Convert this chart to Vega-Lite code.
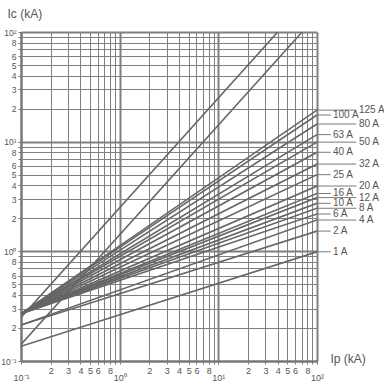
{
  "$schema": "https://vega.github.io/schema/vega-lite/v6.json",
  "width": 296,
  "height": 329,
  "autosize": "none",
  "padding": {"left": 21, "top": 32, "right": 67, "bottom": 24},
  "background": "white",
  "config": {"view": {"stroke": null}, "font": "Liberation Sans"},
  "datasets": {
    "curves": [
      {"curve": "2.5 Ip", "Ip": 0.1, "Ic": 0.25}, {"curve": "2.5 Ip", "Ip": 40, "Ic": 100},
      {"curve": "1.41 Ip", "Ip": 0.1, "Ic": 0.1414}, {"curve": "1.41 Ip", "Ip": 70.7, "Ic": 100},
      {"curve": "125 A", "Ip": 0.1, "Ic": 0.27}, {"curve": "125 A", "Ip": 100, "Ic": 19.4},
      {"curve": "100 A", "Ip": 0.1, "Ic": 0.27}, {"curve": "100 A", "Ip": 100, "Ic": 17.5},
      {"curve": "80 A", "Ip": 0.1, "Ic": 0.27}, {"curve": "80 A", "Ip": 100, "Ic": 14.5},
      {"curve": "63 A", "Ip": 0.1, "Ic": 0.27}, {"curve": "63 A", "Ip": 100, "Ic": 11.6},
      {"curve": "50 A", "Ip": 0.1, "Ic": 0.27}, {"curve": "50 A", "Ip": 100, "Ic": 9.9},
      {"curve": "40 A", "Ip": 0.1, "Ic": 0.27}, {"curve": "40 A", "Ip": 100, "Ic": 8.0},
      {"curve": "32 A", "Ip": 0.1, "Ic": 0.27}, {"curve": "32 A", "Ip": 100, "Ic": 6.25},
      {"curve": "25 A", "Ip": 0.1, "Ic": 0.27}, {"curve": "25 A", "Ip": 100, "Ic": 5.0},
      {"curve": "20 A", "Ip": 0.1, "Ic": 0.27}, {"curve": "20 A", "Ip": 100, "Ic": 3.94},
      {"curve": "16 A", "Ip": 0.1, "Ic": 0.27}, {"curve": "16 A", "Ip": 100, "Ic": 3.37},
      {"curve": "12 A", "Ip": 0.1, "Ic": 0.27}, {"curve": "12 A", "Ip": 100, "Ic": 3.09},
      {"curve": "10 A", "Ip": 0.1, "Ic": 0.27}, {"curve": "10 A", "Ip": 100, "Ic": 2.74},
      {"curve": "8 A", "Ip": 0.1, "Ic": 0.27}, {"curve": "8 A", "Ip": 100, "Ic": 2.47},
      {"curve": "6 A", "Ip": 0.1, "Ic": 0.27}, {"curve": "6 A", "Ip": 100, "Ic": 2.19},
      {"curve": "4 A", "Ip": 0.1, "Ic": 0.213}, {"curve": "4 A", "Ip": 100, "Ic": 1.93},
      {"curve": "2 A", "Ip": 0.1, "Ic": 0.213}, {"curve": "2 A", "Ip": 100, "Ic": 1.53},
      {"curve": "1 A", "Ip": 0.1, "Ic": 0.136}, {"curve": "1 A", "Ip": 100, "Ic": 0.99}
    ],
    "labels": [
      {"label": "125 A", "Ic": 19.4, "col": "R"},
      {"label": "100 A", "Ic": 17.5, "col": "L"},
      {"label": "80 A", "Ic": 14.5, "col": "R"},
      {"label": "63 A", "Ic": 11.6, "col": "L"},
      {"label": "50 A", "Ic": 9.9, "col": "R"},
      {"label": "40 A", "Ic": 8.0, "col": "L"},
      {"label": "32 A", "Ic": 6.25, "col": "R"},
      {"label": "25 A", "Ic": 5.0, "col": "L"},
      {"label": "20 A", "Ic": 3.94, "col": "R"},
      {"label": "16 A", "Ic": 3.37, "col": "L"},
      {"label": "12 A", "Ic": 3.09, "col": "R"},
      {"label": "10 A", "Ic": 2.74, "col": "L"},
      {"label": "8 A", "Ic": 2.47, "col": "R"},
      {"label": "6 A", "Ic": 2.19, "col": "L"},
      {"label": "4 A", "Ic": 1.93, "col": "R"},
      {"label": "2 A", "Ic": 1.53, "col": "L"},
      {"label": "1 A", "Ic": 0.99, "col": "L"}
    ]
  },
  "layer": [
    {
      "data": {"name": "curves"},
      "mark": {"type": "line", "color": "#666666", "strokeWidth": 1.6, "clip": true},
      "encoding": {
        "x": {
          "field": "Ip", "type": "quantitative",
          "scale": {"type": "log", "domain": [0.1, 100], "nice": false},
          "axis": {
            "values": [0.1,0.2,0.3,0.4,0.5,0.6,0.7,0.8,0.9,1,2,3,4,5,6,7,8,9,10,20,30,40,50,60,70,80,90,100],
            "labelExpr": "datum.value==0.1?'10⁻¹':datum.value==1?'10⁰':datum.value==10?'10¹':datum.value==100?'10²':(indexof([7,9],round(datum.value/pow(10,floor(log(datum.value)/LN10+1e-6))))>=0?'':toString(round(datum.value/pow(10,floor(log(datum.value)/LN10+1e-6)))))",
            "labelFontSize": 9, "labelColor": "#555", "labelFlush": false, "labelOverlap": false,
            "labelPadding": {"condition": {"test": "datum.value==0.1||datum.value==1||datum.value==10||datum.value==100", "value": 9}, "value": 2},
            "grid": true, "gridColor": "#808080",
            "gridWidth": {"condition": {"test": "datum.value==0.1||datum.value==1||datum.value==10||datum.value==100", "value": 2}, "value": 1},
            "domainColor": "#777", "domainWidth": 2,
            "tickColor": "#777", "tickSize": 3,
            "title": "Ip (kA)", "titleFontSize": 12, "titleFontWeight": "normal", "titleColor": "#555",
            "titleX": 309, "titleY": 1, "titleAlign": "left", "titleBaseline": "alphabetic", "titleAngle": 0
          }
        },
        "y": {
          "field": "Ic", "type": "quantitative",
          "scale": {"type": "log", "domain": [0.1, 100], "nice": false},
          "axis": {
            "values": [0.1,0.2,0.3,0.4,0.5,0.6,0.7,0.8,0.9,1,2,3,4,5,6,7,8,9,10,20,30,40,50,60,70,80,90,100],
            "labelExpr": "datum.value==0.1?'10⁻¹':datum.value==1?'10⁰':datum.value==10?'10¹':datum.value==100?'10²':(indexof([7,9],round(datum.value/pow(10,floor(log(datum.value)/LN10+1e-6))))>=0?'':toString(round(datum.value/pow(10,floor(log(datum.value)/LN10+1e-6)))))",
            "labelFontSize": 8.5, "labelColor": "#555", "labelFlush": false, "labelOverlap": false, "labelPadding": 2,
            "grid": true, "gridColor": "#808080",
            "gridWidth": {"condition": {"test": "datum.value==0.1||datum.value==1||datum.value==10||datum.value==100", "value": 2}, "value": 1},
            "domainColor": "#777", "domainWidth": 2,
            "tickColor": "#777", "tickSize": 3,
            "title": "Ic (kA)", "titleFontSize": 12, "titleFontWeight": "normal", "titleColor": "#555",
            "titleX": -14, "titleY": -15, "titleAlign": "left", "titleBaseline": "alphabetic", "titleAngle": 0
          }
        },
        "detail": {"field": "curve"}
      }
    },
    {
      "data": {"name": "labels"},
      "transform": [{"filter": "datum.col=='L'"}],
      "mark": {"type": "rule", "color": "#7a7a7a", "strokeWidth": 1, "clip": false},
      "encoding": {
        "x": {"datum": 100, "type": "quantitative"},
        "x2": {"datum": 138},
        "y": {"field": "Ic", "type": "quantitative"}
      }
    },
    {
      "data": {"name": "labels"},
      "transform": [{"filter": "datum.col=='R'"}],
      "mark": {"type": "rule", "color": "#7a7a7a", "strokeWidth": 1, "clip": false},
      "encoding": {
        "x": {"datum": 100, "type": "quantitative"},
        "x2": {"datum": 250},
        "y": {"field": "Ic", "type": "quantitative"}
      }
    },
    {
      "data": {"name": "labels"},
      "transform": [{"filter": "datum.col=='L'"}],
      "mark": {"type": "text", "align": "left", "baseline": "middle", "dx": 16, "fontSize": 10, "color": "#555", "clip": false},
      "encoding": {
        "x": {"datum": 100, "type": "quantitative"},
        "y": {"field": "Ic", "type": "quantitative"},
        "text": {"field": "label"}
      }
    },
    {
      "data": {"name": "labels"},
      "transform": [{"filter": "datum.col=='R'"}],
      "mark": {"type": "text", "align": "left", "baseline": "middle", "dx": 42, "fontSize": 10, "color": "#555", "clip": false},
      "encoding": {
        "x": {"datum": 100, "type": "quantitative"},
        "y": {"field": "Ic", "type": "quantitative"},
        "text": {"field": "label"}
      }
    }
  ]
}
